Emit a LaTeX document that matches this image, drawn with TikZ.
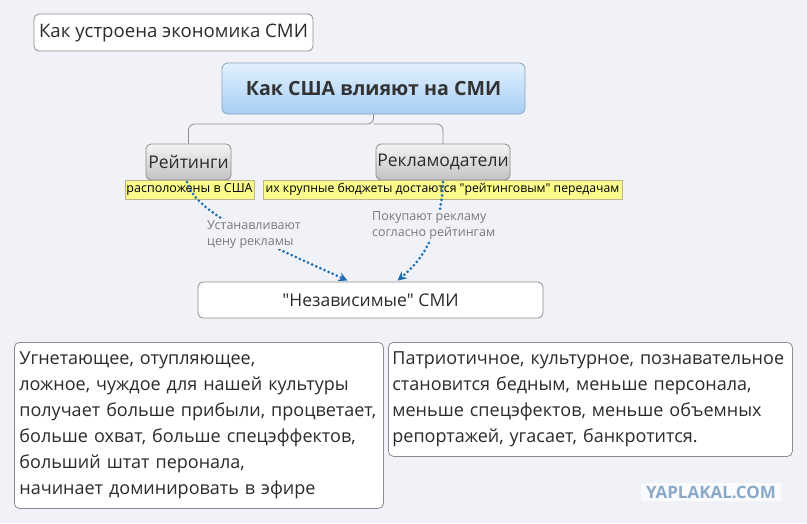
\documentclass[tikz,border=0pt]{standalone}
\usepackage{fontspec}
\setmainfont{Open Sans}
\usetikzlibrary{arrows.meta,calc}
\definecolor{bg}{HTML}{F0F2F7}
\definecolor{boxline}{HTML}{8C8C8C}
\definecolor{txt}{HTML}{2B2B2B}
\definecolor{mainborder}{HTML}{8FA3B8}
\definecolor{maintop}{HTML}{E3F1FE}
\definecolor{mainbot}{HTML}{A6CEF5}
\definecolor{graytop}{HTML}{F4F4F4}
\definecolor{graybot}{HTML}{C2C2C2}
\definecolor{yel}{HTML}{FBFB8C}
\definecolor{yelborder}{HTML}{B9B48A}
\definecolor{arrowblue}{HTML}{1F6DB3}
\definecolor{lbl}{HTML}{7A7A7A}
\definecolor{wm}{HTML}{8AA9C8}
\tikzset{
  whitebox/.style={draw=boxline, fill=white, rounded corners=5pt, line width=0.8pt, text=txt, inner sep=0pt},
  mainbox/.style={draw=mainborder, top color=maintop, bottom color=mainbot, rounded corners=6pt, line width=0.8pt, text=txt, inner sep=0pt},
  graybox/.style={draw=boxline, top color=graytop, bottom color=graybot, rounded corners=5pt, line width=0.8pt, text=txt, inner sep=0pt},
  yelbox/.style={draw=yelborder, fill=yel, line width=0.7pt, text=black, inner sep=0pt},
  dotarrow/.style={draw=arrowblue, line width=3pt, line cap=round, dash pattern=on 0pt off 4.5pt, -{Stealth[length=9pt,width=9pt,line cap=butt]}},
  arrlabel/.style={text=lbl, fill=bg, inner sep=1pt, align=left, font=\fontsize{12.5}{16}\selectfont},
  conn/.style={draw=boxline, line width=0.8pt, rounded corners=6pt},
}
\begin{document}
\begin{tikzpicture}[x=1pt,y=-1pt]
\fill[bg] (0,0) rectangle (807,523);
\useasboundingbox (0,0) rectangle (807,523);

% title box
\node[whitebox, minimum width=279pt, minimum height=37pt, font=\fontsize{18.6}{22}\selectfont] (econ) at (173.5,32.5) {Как устроена экономика СМИ};

% main
\node[mainbox, minimum width=303pt, minimum height=51pt, text=black!80, font=\fontsize{19.6}{24}\selectfont\bfseries] (main) at (373.5,88.5) {Как США влияют на СМИ};

% subtopics
\node[graybox, minimum width=85pt, minimum height=36pt, font=\fontsize{17.5}{20}\selectfont] (rating) at (188.5,162) {Рейтинги};
\node[graybox, minimum width=134pt, minimum height=36pt, font=\fontsize{17.5}{20}\selectfont] (adv) at (443,162) {Рекламодатели};

\coordinate (split) at (373.5,124);
\draw[conn] (main.south) -- (split) -| (rating.north);
\draw[conn] (split) -| (adv.north);

% yellow notes
\node[yelbox, minimum width=129pt, minimum height=19pt, font=\fontsize{12.5}{14}\selectfont] (note1) at (189.5,189.5) {расположены в США};
\node[yelbox, minimum width=359pt, minimum height=19pt, font=\fontsize{12.2}{14}\selectfont] (note2) at (442.5,189.5) {их крупные бюджеты достаются \textquotedbl рейтинговым\textquotedbl{} передачам};

% target
\node[whitebox, minimum width=345pt, minimum height=36pt, font=\fontsize{17.5}{20}\selectfont] (indep) at (370.5,300) {\textquotedbl Независимые\textquotedbl{} СМИ};

% arrows
\coordinate (a1s) at (187,182);
\coordinate (a2s) at (443,182);
\coordinate (a1e) at ($(indep.north)+(-23,-1)$);
\coordinate (a2e) at ($(indep.north)+(27,-1)$);
\draw[dotarrow] (a1s) .. controls (196,215) and (270,245) .. (a1e);
\draw[dotarrow] (a2s) .. controls (441,235) and (420,262) .. (a2e);

\node[arrlabel, anchor=north west] (lab1) at (206,219) {Устанавливают\\цену рекламы};
\node[arrlabel, anchor=north west] (lab2) at (371,210) {Покупают рекламу\\согласно рейтингам};

% bottom boxes
\node[whitebox, anchor=north west, minimum width=369pt, minimum height=166pt, text width=359pt, align=left, font=\fontsize{18}{26}\selectfont] (bad) at (14,342) {Угнетающее, отупляющее,\\ложное, чуждое для нашей культуры\\получает больше прибыли, процветает,\\больше охват, больше спецэффектов,\\больший штат перонала,\\начинает доминировать в эфире};

\node[whitebox, anchor=north west, minimum width=404pt, minimum height=114pt, text width=396pt, align=left, font=\fontsize{18}{26}\selectfont] (good) at (388,342) {Патриотичное, культурное, познавательное\\становится бедным, меньше персонала,\\меньше спецэфектов, меньше объемных\\репортажей, угасает, банкротится.};

% watermark
\node[fill=white!70!bg, text=wm, inner xsep=5pt, inner ysep=3pt, font=\fontsize{17}{19}\selectfont\bfseries] (wmark) at (711,492) {YAPLAKAL.COM};
\end{tikzpicture}
\end{document}
